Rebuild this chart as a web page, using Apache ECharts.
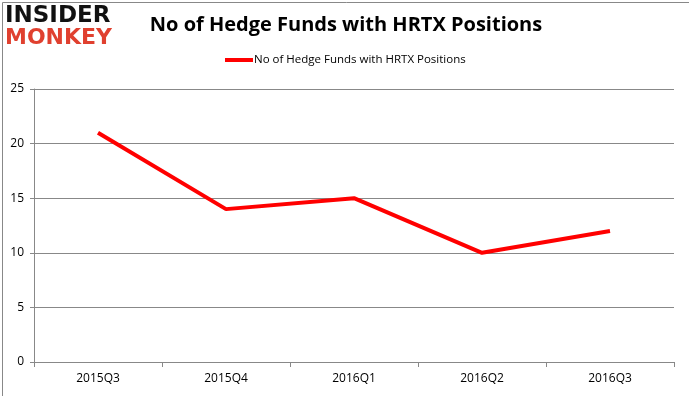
<!DOCTYPE html>
<html>
<head>
<meta charset="utf-8">
<script src="https://cdn.jsdelivr.net/npm/echarts@6/dist/echarts.min.js"></script>
<style>
html,body{margin:0;padding:0;background:#fff;}
#chart{width:689px;height:396px;}
</style>
</head>
<body>
<div id="chart"></div>
<script>
const categories = ['2015Q3', '2015Q4', '2016Q1', '2016Q2', '2016Q3'];
const seriesName = 'No of Hedge Funds with HRTX Positions';
const values = [21, 14, 15, 10, 12];
const yTicks = [0, 5, 10, 15, 20, 25];

const chart = echarts.init(document.getElementById('chart'), null, {renderer: 'canvas'});
const font = '"Open Sans", "Liberation Sans", sans-serif';
chart.setOption({
  animation: false,
  backgroundColor: '#ffffff',
  title: {
    text: 'No of Hedge Funds with HRTX Positions',
    left: 341, top: 10, textAlign: 'center',
    textStyle: {fontFamily: font, fontSize: 20, fontWeight: 'bold', color: '#000'}
  },
  graphic: [
    {type: 'rect', left: 0, top: 0, shape: {width: 688, height: 394}, style: {fill: 'none', stroke: '#888', lineWidth: 1}, silent: true},
    {type: 'text', left: 5, top: 5, style: {text: 'INSIDER', fontFamily: '"DejaVu Sans", sans-serif', fontSize: 23, fontWeight: 'bold', fill: '#111', letterSpacing: 1}},
    {type: 'text', left: 5, top: 27, style: {text: 'MONKEY', fontFamily: '"DejaVu Sans", sans-serif', fontSize: 22, fontWeight: 'bold', fill: '#e0402f', letterSpacing: 0}}
  ],
  legend: {
    data: [seriesName],
    left: 225, top: 54, padding: 0,
    itemWidth: 28, itemHeight: 4, itemGap: 4,
    icon: 'rect',
    textStyle: {fontFamily: font, fontSize: 11.5, color: '#000', padding: [0,0,0,-4]}
  },
  grid: {left: 34, right: 15, top: 89, bottom: 34, containLabel: false},
  xAxis: {
    type: 'category', data: categories, boundaryGap: true,
    axisLine: {lineStyle: {color: '#888', width: 1}},
    axisTick: {show: true, length: 5, lineStyle: {color: '#888'}, alignWithLabel: false},
    axisLabel: {fontFamily: font, fontSize: 12, color: '#000', margin: 11}
  },
  yAxis: {
    type: 'value', min: yTicks[0], max: yTicks[yTicks.length-1], interval: 5,
    axisLine: {show: true, lineStyle: {color: '#888', width: 1}},
    axisTick: {show: true, length: 4, lineStyle: {color: '#888'}},
    splitLine: {show: true, lineStyle: {color: '#888', width: 1}},
    axisLabel: {fontFamily: font, fontSize: 12, color: '#000', margin: 10}
  },
  series: [{
    name: seriesName, type: 'line', data: values,
    symbol: 'none', lineStyle: {color: '#ff0000', width: 4},
    itemStyle: {color: '#ff0000'}
  }]
});
</script>
</body>
</html>
